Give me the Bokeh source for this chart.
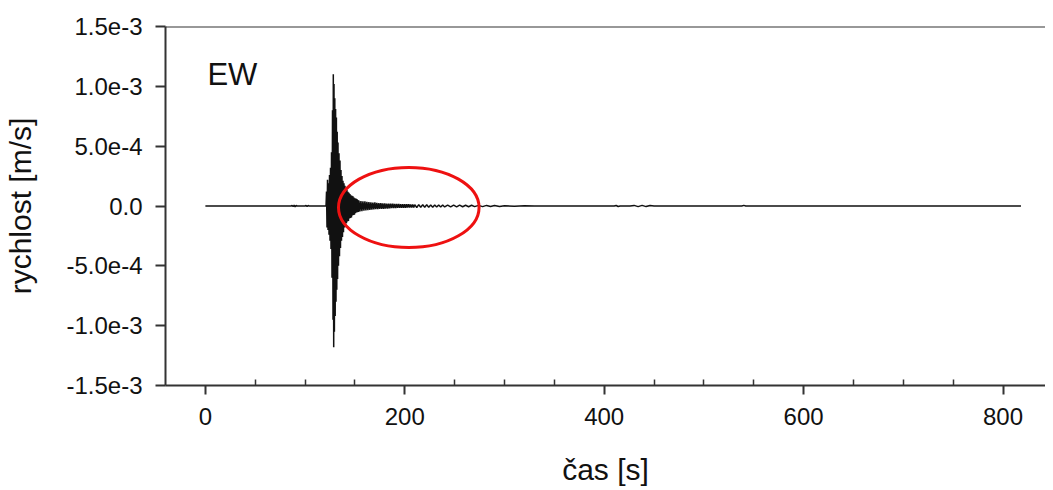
from bokeh.plotting import figure
from bokeh.models import (FixedTicker, CustomJSTickFormatter, Span, Label, Range1d)
from bokeh.embed import file_html
from bokeh.resources import INLINE

# ---- data (time in s, velocity in units of 1e-4 m/s) ----
time_s = [0, 86, 87, 88, 89, 90, 91, 92, 100, 101, 102, 103, 104, 120,
          121.0, 121.5, 122.0, 122.5, 123.0, 123.5, 124.0, 124.5, 125.0, 125.5,
          126.0, 126.5, 127.0, 127.5, 128.0, 128.3, 128.7, 129.0, 129.4, 129.8,
          130.2, 130.6, 131.0, 131.4, 131.8, 132.2, 132.6, 133.0, 133.5, 134.0,
          134.5, 135.0, 135.5, 136.0, 136.5, 137.0, 137.5, 138.0, 138.5, 139.0,
          139.5, 140.0, 140.5, 141.0, 141.5, 142.0, 142.5, 143.0, 143.5, 144.0,
          144.5, 145.0, 145.5, 146.0, 146.5, 147.0, 147.5, 148.0, 148.5, 149.0,
          149.5, 150.0, 150.5, 151.0, 151.5, 152.0, 152.5, 153.0, 153.5, 154.0,
          155, 156, 157, 158, 159, 160, 161, 162, 163, 164,
          165, 166, 167, 168, 169, 170, 171, 172, 173, 174,
          175, 176, 177, 178, 179, 180, 181, 182, 183, 184,
          185, 186, 187, 188, 189, 190, 191, 192, 193, 194,
          195, 196, 197, 198, 199, 200, 201, 202, 203, 204,
          205, 206, 207, 208, 209, 210, 212, 214, 216, 218,
          220, 222, 224, 226, 228, 230, 232, 234, 236, 238,
          240, 243, 246, 249, 252, 255, 258, 261, 264, 267,
          270, 274, 278, 282, 286, 290, 295, 300, 310, 320, 330,
          410, 412, 414, 416, 426, 430, 434, 438, 442, 446, 450, 538, 540, 542,
          818]
vel_1e4 = [0, 0, 0.05, -0.05, 0.06, -0.06, 0.04, 0, 0, 0.05, -0.05, 0.04, 0, 0,
           0, 1.2, -1.8, 2.2, -2.0, 1.9, -2.4, 2.6, -2.9, 3.2,
           -3.6, 4.5, -6.0, 8.0, -9.5, 11.0, -11.8, 10.2, -10.5, 9.0,
           -9.2, 8.1, -8.0, 7.4, -7.0, 6.2, -6.1, 5.3, -5.0, 4.4,
           -4.2, 3.8, -3.5, 3.0, -2.9, 2.5, -2.6, 2.1, -2.2, 1.9,
           -1.8, 1.7, -1.6, 1.5, -1.45, 1.35, -1.3, 1.2, -1.25, 1.1,
           -1.05, 1.0, -1.0, 0.9, -0.95, 0.85, -0.8, 0.82, -0.75, 0.7,
           -0.72, 0.65, -0.6, 0.62, -0.55, 0.58, -0.52, 0.5, -0.5, 0.46,
           -0.45, 0.42, -0.44, 0.4, -0.38, 0.4, -0.36, 0.35, -0.34, 0.33,
           -0.32, 0.3, -0.31, 0.29, -0.28, 0.3, -0.27, 0.26, -0.27, 0.25,
           -0.24, 0.25, -0.23, 0.22, -0.23, 0.21, -0.22, 0.2, -0.21, 0.2,
           -0.19, 0.2, -0.18, 0.19, -0.18, 0.17, -0.18, 0.17, -0.16, 0.17,
           -0.16, 0.15, -0.16, 0.15, -0.14, 0.15, -0.14, 0.14, -0.13, 0.14,
           -0.13, 0.12, -0.13, 0.12, -0.12, 0.11, -0.12, 0.11, -0.1, 0.11,
           -0.1, 0.1, -0.1, 0.09, -0.1, 0.09, -0.09, 0.08, -0.09, 0.08,
           -0.08, 0.08, -0.07, 0.07, -0.07, 0.07, -0.06, 0.06, -0.06, 0.06,
           -0.05, 0.05, -0.05, 0.05, -0.04, 0.04, -0.04, 0.03, -0.03, 0.03, 0,
           0, 0.04, -0.04, 0, 0, 0.05, -0.05, 0.05, -0.05, 0.04, 0, 0, 0.05, 0,
           0]
velocity = [v * 1e-4 for v in vel_1e4]

x_major = [0, 200, 400, 600, 800]
x_minor = [50, 100, 150, 250, 300, 350, 450, 500, 550, 650, 700, 750, 850]
y_ticks = [-1.5e-3, -1.0e-3, -5.0e-4, 0.0, 5.0e-4, 1.0e-3, 1.5e-3]

component_label = "EW"
ellipse_center = (204, -1.2e-5)
ellipse_size = (141, 6.7e-4)

FONT = "Liberation Sans"
AX = "#333333"

p = figure(width=1045, height=490, output_backend="svg", toolbar_location=None,
           x_range=Range1d(-40, 842.6), y_range=Range1d(-1.5e-3, 1.5e-3),
           min_border_left=165, min_border_top=26, min_border_bottom=105,
           min_border_right=0)
p.outline_line_color = None
p.grid.visible = False
p.background_fill_color = "white"
p.border_fill_color = "white"

# top frame line
p.add_layout(Span(location=1.5e-3, dimension="width", line_color=AX, line_width=2))

p.line(time_s, velocity, line_color="#111111", line_width=1.5)

p.ellipse(x=[ellipse_center[0]], y=[ellipse_center[1]],
          width=ellipse_size[0], height=ellipse_size[1],
          fill_color=None, line_color="#ee1111", line_width=3)

p.add_layout(Label(x=2, y=1.10e-3, text=component_label, text_font=FONT,
                   text_font_size="31px", text_color="#111111",
                   text_baseline="middle"))

# x axis
xa = p.xaxis[0]
xa.ticker = FixedTicker(ticks=x_major, minor_ticks=x_minor)
xa.axis_label = "čas [s]"
xa.axis_line_color = AX
xa.axis_line_width = 2
xa.major_tick_in = 0
xa.major_tick_out = 9
xa.major_tick_line_color = AX
xa.major_tick_line_width = 2
xa.minor_tick_in = 6
xa.minor_tick_out = 0
xa.minor_tick_line_color = AX
xa.minor_tick_line_width = 1.5
xa.major_label_text_font = FONT
xa.major_label_text_font_size = "24px"
xa.major_label_text_color = "#111111"
xa.major_label_standoff = 13
xa.axis_label_text_font = FONT
xa.axis_label_text_font_size = "30px"
xa.axis_label_text_font_style = "normal"
xa.axis_label_text_color = "#111111"
xa.axis_label_standoff = 25

# y axis
ya = p.yaxis[0]
ya.ticker = FixedTicker(ticks=y_ticks, minor_ticks=[])
ya.formatter = CustomJSTickFormatter(
    code="return Math.abs(tick) < 1e-12 ? '0.0' : tick.toExponential(1);")
ya.axis_label = "rychlost [m/s]"
ya.axis_line_color = AX
ya.axis_line_width = 2
ya.major_tick_in = 0
ya.major_tick_out = 10
ya.major_tick_line_color = AX
ya.major_tick_line_width = 2
ya.minor_tick_line_color = None
ya.major_label_text_font = FONT
ya.major_label_text_font_size = "24px"
ya.major_label_text_color = "#111111"
ya.major_label_standoff = 13
ya.axis_label_text_font = FONT
ya.axis_label_text_font_size = "30px"
ya.axis_label_text_font_style = "normal"
ya.axis_label_text_color = "#111111"
ya.axis_label_standoff = 26

open("out.html", "w").write(file_html(p, INLINE))
